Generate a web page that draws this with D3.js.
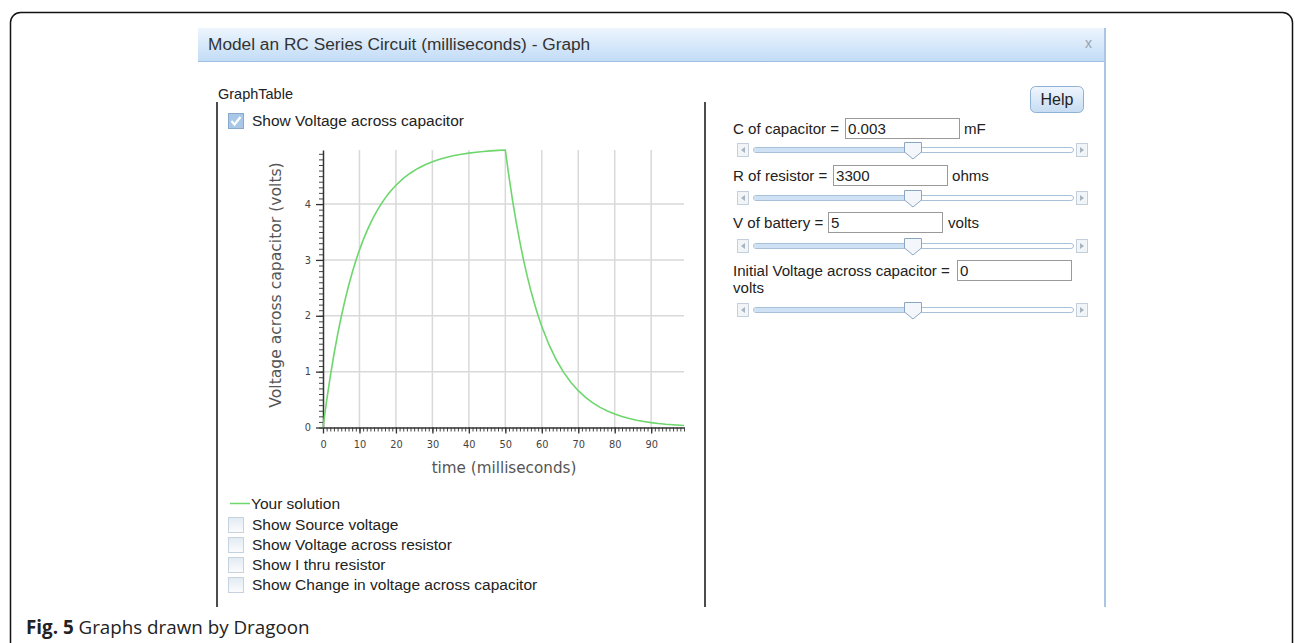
<!DOCTYPE html>
<html>
<head>
<meta charset="utf-8">
<script src="https://cdn.jsdelivr.net/npm/d3@7"></script>
<style>
  body { margin: 0; background: #fff; }
  svg { display: block; font-family: "Liberation Sans", Arial, sans-serif; }
</style>
</head>
<body>
<div id="chart"></div>
<script>
// Voltage across capacitor (charge to 50 ms, then discharge)
const timeMs = [0, 1, 2, 3, 4, 5, 6, 7, 8, 9, 10, 11, 12, 13, 14, 15, 16, 17, 18, 19, 20,
  22, 24, 26, 28, 30, 32, 34, 36, 38, 40, 42, 44, 46, 48, 50,
  51, 52, 53, 54, 55, 56, 57, 58, 59, 60, 62, 64, 66, 68, 70, 72, 74, 76, 78, 80,
  82, 84, 86, 88, 90, 92, 94, 96, 98, 99];
const capVolts = [0, 0.48, 0.915, 1.307, 1.662, 1.983, 2.272, 2.534, 2.771, 2.985, 3.179,
  3.354, 3.512, 3.655, 3.784, 3.901, 4.007, 4.102, 4.188, 4.266, 4.337,
  4.458, 4.557, 4.638, 4.704, 4.758, 4.803, 4.839, 4.868, 4.892, 4.912, 4.928, 4.941, 4.952, 4.961, 4.968,
  4.491, 4.059, 3.669, 3.317, 2.998, 2.71, 2.45, 2.214, 2.002, 1.809, 1.478, 1.208, 0.987, 0.807, 0.659,
  0.538, 0.44, 0.36, 0.294, 0.24, 0.196, 0.16, 0.131, 0.107, 0.087, 0.071, 0.058, 0.048, 0.039, 0.035];

const xTickValues = [0, 10, 20, 30, 40, 50, 60, 70, 80, 90];
const yTickValues = [0, 1, 2, 3, 4];

const optionLabels = ["Show Source voltage", "Show Voltage across resistor",
  "Show I thru resistor", "Show Change in voltage across capacitor"];

const paramLabels = ["C of capacitor =", "R of resistor =", "V of battery =", "Initial Voltage across capacitor ="];
const paramValues = ["0.003", "3300", "5", "0"];
const paramUnits = ["mF", "ohms", "volts", "volts"];

const W = 1295, H = 643;
const FS = 15.5;   // left panel text size
const FSR = 15.1;  // right panel text size
const svg = d3.select("#chart").append("svg").attr("width", W).attr("height", H);

const defs = svg.append("defs");
const titleGrad = defs.append("linearGradient").attr("id", "titleGrad").attr("x1", 0).attr("y1", 0).attr("x2", 0).attr("y2", 1);
titleGrad.append("stop").attr("offset", "0%").attr("stop-color", "#edf5fd");
titleGrad.append("stop").attr("offset", "100%").attr("stop-color", "#c2dcf6");
const btnGrad = defs.append("linearGradient").attr("id", "btnGrad").attr("x1", 0).attr("y1", 0).attr("x2", 0).attr("y2", 1);
btnGrad.append("stop").attr("offset", "0%").attr("stop-color", "#f0f6fd");
btnGrad.append("stop").attr("offset", "100%").attr("stop-color", "#c6dcf2");
const boxGrad = defs.append("linearGradient").attr("id", "boxGrad").attr("x1", 0).attr("y1", 0).attr("x2", 0).attr("y2", 1);
boxGrad.append("stop").attr("offset", "0%").attr("stop-color", "#e2eaf2");
boxGrad.append("stop").attr("offset", "100%").attr("stop-color", "#fbfcfd");

// outer figure frame
svg.append("rect")
  .attr("x", 10.5).attr("y", 12.5).attr("width", 1282).attr("height", 680)
  .attr("rx", 10).attr("fill", "none").attr("stroke", "#111").attr("stroke-width", 1.5);

// dialog title bar
svg.append("rect").attr("x", 198).attr("y", 28).attr("width", 907).attr("height", 33).attr("fill", "url(#titleGrad)");
svg.append("line").attr("x1", 198).attr("x2", 1105).attr("y1", 61.5).attr("y2", 61.5).attr("stroke", "#9fc0e2");
svg.append("line").attr("x1", 1105).attr("x2", 1105).attr("y1", 28).attr("y2", 607).attr("stroke", "#a9c6e3").attr("stroke-width", 2);
svg.append("text").attr("x", 208).attr("y", 50).attr("font-size", 17.3).attr("fill", "#333")
  .text("Model an RC Series Circuit (milliseconds) - Graph");
svg.append("text").attr("x", 1085).attr("y", 48).attr("font-size", 14).attr("fill", "#9aa3ad").text("x");

// panel dividers
svg.append("text").attr("x", 218).attr("y", 99).attr("font-size", 14.5).attr("fill", "#222").text("GraphTable");
[217, 705].forEach(x => {
  svg.append("line").attr("x1", x).attr("x2", x).attr("y1", 102).attr("y2", 607)
    .attr("stroke", "#111").attr("stroke-width", 1.5);
});

function checkbox(x, y, checked) {
  const g = svg.append("g").attr("transform", `translate(${x},${y})`);
  g.append("rect").attr("x", 0.5).attr("y", 0.5).attr("width", 15).attr("height", 15)
    .attr("fill", checked ? "#a9c8e8" : "url(#boxGrad)").attr("stroke", checked ? "#86a9cc" : "#c6d2de");
  if (checked) {
    g.append("path").attr("d", "M3.5,8 L6.5,11.5 L12.5,4").attr("fill", "none")
      .attr("stroke", "#fff").attr("stroke-width", 2.2);
  }
}

checkbox(228, 113, true);
svg.append("text").attr("x", 252).attr("y", 126).attr("font-size", FS).attr("fill", "#222")
  .text("Show Voltage across capacitor");

// ---------- graph ----------
const x = d3.scaleLinear().domain([0, 99]).range([323, 684]);
const y = d3.scaleLinear().domain([0, d3.max(capVolts)]).range([427.5, 150]);

const grid = svg.append("g").attr("stroke", "#d9d9d9").attr("stroke-width", 1.5);
grid.selectAll(".vg").data(xTickValues.slice(1)).join("line")
  .attr("x1", d => x(d)).attr("x2", d => x(d)).attr("y1", y.range()[1]).attr("y2", y(0));
grid.selectAll(".hg").data(yTickValues.slice(1)).join("line")
  .attr("x1", x(0)).attr("x2", x.range()[1]).attr("y1", d => y(d)).attr("y2", d => y(d));

// minor ticks
svg.append("g").attr("transform", `translate(0,${y(0)})`)
  .call(d3.axisBottom(x).tickValues(d3.range(0, 100, 1)).tickSize(4).tickFormat(""))
  .call(g => g.select(".domain").remove())
  .call(g => g.selectAll("line").attr("stroke", "#444"));
svg.append("g").attr("transform", `translate(${x(0)},0)`)
  .call(d3.axisLeft(y).tickValues(d3.range(0, 50, 1).map(d => d / 10)).tickSize(4).tickFormat(""))
  .call(g => g.select(".domain").remove())
  .call(g => g.selectAll("line").attr("stroke", "#444"));

// major axes
const xAxis = svg.append("g").attr("transform", `translate(0,${y(0)})`)
  .call(d3.axisBottom(x).tickValues(xTickValues).tickFormat(d3.format("d"))
    .tickSize(6).tickSizeOuter(0).tickPadding(8));
const yAxis = svg.append("g").attr("transform", `translate(${x(0)},0)`)
  .call(d3.axisLeft(y).tickValues(yTickValues).tickFormat(d3.format("d"))
    .tickSize(7).tickSizeOuter(0).tickPadding(5));
[xAxis, yAxis].forEach(a => {
  a.select(".domain").attr("stroke", "#333").attr("stroke-width", 1.5);
  a.selectAll("line").attr("stroke", "#333").attr("stroke-width", 1.3);
  a.selectAll("text").attr("font-family", "'DejaVu Sans', Verdana, sans-serif")
    .attr("font-size", 9.8).attr("fill", "#444");
});

const line = d3.line().x((d, i) => x(timeMs[i])).y(d => y(d));
svg.append("path").datum(capVolts).attr("d", line)
  .attr("fill", "none").attr("stroke", "#6dd66d").attr("stroke-width", 1.6);

svg.append("text").attr("x", 504).attr("y", 473).attr("text-anchor", "middle")
  .attr("font-family", "'DejaVu Sans', Verdana, sans-serif").attr("font-size", 15.2).attr("fill", "#555")
  .text("time (milliseconds)");
svg.append("text").attr("transform", "translate(281,285) rotate(-90)").attr("text-anchor", "middle")
  .attr("font-family", "'DejaVu Sans', Verdana, sans-serif").attr("font-size", 15.6).attr("fill", "#555")
  .text("Voltage across capacitor (volts)");

// legend + options
svg.append("line").attr("x1", 230).attr("x2", 250).attr("y1", 503.5).attr("y2", 503.5)
  .attr("stroke", "#6dd66d").attr("stroke-width", 1.5);
svg.append("text").attr("x", 251).attr("y", 509).attr("font-size", FS).attr("fill", "#222").text("Your solution");
optionLabels.forEach((t, i) => {
  checkbox(228, 517 + i * 20, false);
  svg.append("text").attr("x", 252).attr("y", 530 + i * 20).attr("font-size", FS).attr("fill", "#222").text(t);
});

// ---------- parameter panel ----------
const hb = svg.append("g");
hb.append("rect").attr("x", 1030.5).attr("y", 86.5).attr("width", 53).attr("height", 26).attr("rx", 5)
  .attr("fill", "url(#btnGrad)").attr("stroke", "#8fb1d4");
hb.append("text").attr("x", 1057).attr("y", 105).attr("text-anchor", "middle")
  .attr("font-size", 16).attr("fill", "#222").text("Help");

function inputBox(x0, y0, val) {
  svg.append("rect").attr("x", x0 + 0.5).attr("y", y0 + 0.5).attr("width", 114).attr("height", 20)
    .attr("fill", "#fff").attr("stroke", "#9a9a9a");
  svg.append("text").attr("x", x0 + 3).attr("y", y0 + 16).attr("font-size", FSR).attr("fill", "#222").text(val);
}

function slider(cy) {
  const g = svg.append("g");
  [[737, -1], [1076, 1]].forEach(([bx, dir]) => {
    g.append("rect").attr("x", bx + 0.5).attr("y", cy - 6.5).attr("width", 11).attr("height", 13)
      .attr("fill", "#f2f5f8").attr("stroke", "#c3d0dc");
    const cx = bx + 6;
    g.append("path").attr("d", dir < 0
        ? `M${cx + 2},${cy - 3} L${cx - 2},${cy} L${cx + 2},${cy + 3} Z`
        : `M${cx - 2},${cy - 3} L${cx + 2},${cy} L${cx - 2},${cy + 3} Z`)
      .attr("fill", "#a7b3bf");
  });
  g.append("rect").attr("x", 753.5).attr("y", cy - 2.5).attr("width", 320).attr("height", 5).attr("rx", 2.5)
    .attr("fill", "#fff").attr("stroke", "#a8c0d8");
  g.append("rect").attr("x", 754).attr("y", cy - 2).attr("width", 158).attr("height", 4).attr("rx", 2)
    .attr("fill", "#cfe1f4");
  g.append("path")
    .attr("d", `M904.5,${cy - 7.5} H921.5 V${cy + 2} L913,${cy + 9} L904.5,${cy + 2} Z`)
    .attr("fill", "#f3f7fb").attr("stroke", "#8ba6c2");
}

const rowLabelY = [134, 181, 228, 276];
const inputX = [845, 833, 828, 957];
const unitX = [964, 952, 948, 733];
const sliderY = [150, 198, 246, 310];

paramLabels.forEach((lab, i) => {
  svg.append("text").attr("x", 733).attr("y", rowLabelY[i]).attr("font-size", FSR).attr("fill", "#222").text(lab);
  inputBox(inputX[i], rowLabelY[i] - 16, paramValues[i]);
  const uy = i === 3 ? rowLabelY[i] + 17 : rowLabelY[i];
  svg.append("text").attr("x", unitX[i]).attr("y", uy).attr("font-size", FSR).attr("fill", "#222").text(paramUnits[i]);
  slider(sliderY[i]);
});

// caption
const cap = svg.append("text").attr("x", 26).attr("y", 634)
  .attr("font-family", "'Open Sans', 'Noto Sans', sans-serif").attr("font-size", 18.8).attr("fill", "#222");
cap.append("tspan").attr("font-weight", "bold").text("Fig. 5");
cap.append("tspan").text(" Graphs drawn by Dragoon");
</script>
</body>
</html>
